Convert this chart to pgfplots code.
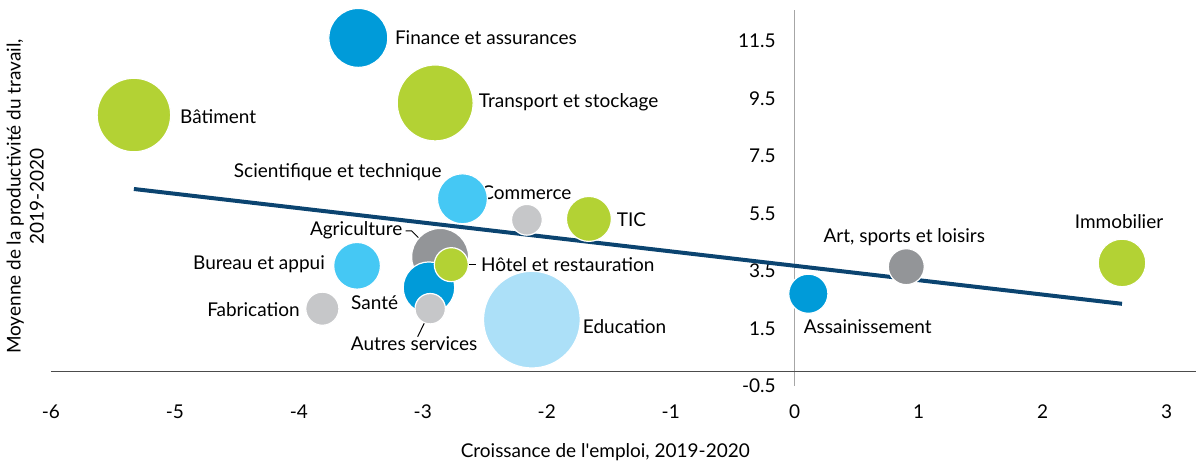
\documentclass[border=0pt]{standalone}
\usepackage{fontspec}
\setmainfont{Lato}
\usepackage{pgfplots}
\pgfplotsset{compat=1.18}
\usepackage{pgfplotstable}

\definecolor{cG}{HTML}{B3D234}
\definecolor{cB}{HTML}{009BD9}
\definecolor{cL}{HTML}{45C8F4}
\definecolor{cD}{HTML}{939598}
\definecolor{cS}{HTML}{C6C7C9}
\definecolor{cE}{HTML}{ACE0F8}
\definecolor{cN}{HTML}{0B4470}

% x = croissance de l'emploi, y = productivite, r = rayon (pt)
\pgfplotstableread{
x y r
-2.86 3.99 14.25
0.90 3.65 9.0
}\grisfonce
\pgfplotstableread{
x y r
-2.68 6.01 12.5
-3.53 3.68 11.7
}\bleuclair
\pgfplotstableread{
x y r
-2.12 1.81 24.2
}\bleupale
\pgfplotstableread{
x y r
-3.52 11.60 14.75
-2.95 2.92 12.9
0.11 2.71 9.8
}\bleu
\pgfplotstableread{
x y r
-5.33 8.92 18.4
-2.90 9.34 19.0
-1.66 5.31 11.25
-2.77 3.72 8.5
2.64 3.78 11.9
}\vert
\pgfplotstableread{
x y r
-2.16 5.28 7.7
-3.81 2.19 8.3
-2.94 2.19 7.6
}\grisclair

\pgfplotsset{bub/.style={scatter, only marks, mark=*,
  visualization depends on={\thisrow{r}\as\rad},
  scatter/use mapped color={draw=white, line width=0.6pt, fill=#1},
  scatter/@pre marker code/.append style={/tikz/mark size=\rad}}}

\begin{document}
\begin{tikzpicture}[font=\fontsize{9.5}{11.5}\selectfont]
\begin{axis}[
  scale only axis, width=573.2pt, height=188.2pt,
  xmin=-6, xmax=3.24, ymin=-0.5, ymax=12.57,
  axis x line*=bottom, axis y line*=center,
  x axis line style={draw=none},
  y axis line style={draw=black!35, line width=0.6pt},
  hide obscured x ticks=false, hide obscured y ticks=false,
  major tick length=0pt,
  xtick={-6,-5,-4,-3,-2,-1,0,1,2,3},
  xticklabels={-6,-5,-4,-3,-2,-1,0,1,2,3},
  ytick={-0.5,1.5,3.5,5.5,7.5,9.5,11.5},
  yticklabels={-0.5,1.5,3.5,5.5,7.5,9.5,11.5},
  xticklabel style={anchor=north, yshift=-6pt},
  yticklabel style={anchor=east, xshift=-6pt},
  xlabel={Croissance de l\textquotesingle emploi, 2019-2020},
  xlabel style={at={(axis description cs:0.484,0)}, anchor=center, yshift=-33pt},
  ylabel={Moyenne de la productivité du travail,\\2019-2020},
  ylabel style={align=center, at={(axis description cs:0,0.52)}, anchor=south, xshift=-3pt},
  clip=false,
]
\draw[black!70, line width=0.6pt] (axis cs:-6,0) -- (axis cs:3.24,0);

\addplot[bub=cD] table[x=x,y=y]{\grisfonce};
\addplot[bub=cL] table[x=x,y=y]{\bleuclair};
\addplot[bub=cE] table[x=x,y=y]{\bleupale};
\addplot[bub=cB] table[x=x,y=y]{\bleu};
\addplot[bub=cG] table[x=x,y=y]{\vert};
\addplot[bub=cS] table[x=x,y=y]{\grisclair};

\addplot[cN, line width=2pt] coordinates {(-5.33,6.35) (2.64,2.36)};

\begin{scope}[every node/.style={inner sep=0pt}]
\node[anchor=west] at (axis cs:-3.227,11.60) {Finance et assurances};
\node[anchor=west] at (axis cs:-4.96,8.85) {Bâtiment};
\node[anchor=west] at (axis cs:-2.55,9.375) {Transport et stockage};
\node[anchor=east] at (axis cs:-2.846,6.94) {Scientifique et technique};
\node[anchor=west] at (axis cs:-2.53,6.22) {Commerce};
\node[anchor=west] at (axis cs:-1.437,5.28) {TIC};
\node[anchor=east] at (axis cs:-3.162,4.93) {Agriculture};
\node[anchor=east] at (axis cs:-3.787,3.72) {Bureau et appui};
\node[anchor=west] at (axis cs:-2.533,3.72) {Hôtel et restauration};
\node[anchor=center] at (axis cs:-3.388,2.41) {Santé};
\node[anchor=east] at (axis cs:-3.99,2.15) {Fabrication};
\node[anchor=center] at (axis cs:-3.07,0.97) {Autres services};
\node[anchor=west] at (axis cs:-1.711,1.56) {Education};
\node[anchor=west] at (axis cs:0.07,1.56) {Assainissement};
\node[anchor=west] at (axis cs:0.23,4.69) {Art, sports et loisirs};
\node[anchor=center] at (axis cs:2.616,5.21) {Immobilier};
\end{scope}
\draw[black, line width=0.5pt] (axis cs:-3.138,4.896) -- (axis cs:-3.090,4.896) -- (axis cs:-2.961,4.34);
\draw[black, line width=0.5pt] (axis cs:-2.767,3.715) -- (axis cs:-2.574,3.715);
\draw[black, line width=0.5pt] (axis cs:-2.944,2.083) -- (axis cs:-3.041,1.215);
\end{axis}
\path[use as bounding box] ([shift={(-25.35pt,-40.3pt)}]current axis.south west) rectangle ([shift={(0pt,5pt)}]current axis.north east);
\end{tikzpicture}
\end{document}
